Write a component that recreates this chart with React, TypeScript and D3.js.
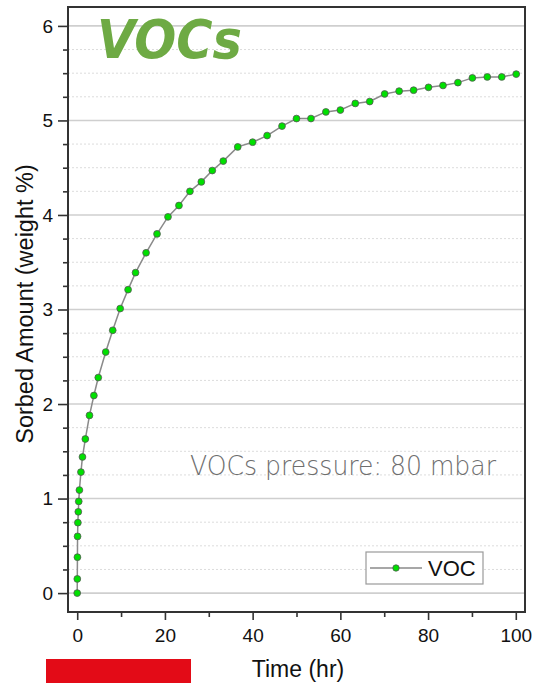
import React, { useEffect, useRef } from "react";
import * as d3 from "d3";

// time (hr) and sorbed amount (weight %)
const timeHr = [
  0, 0.02, 0.05, 0.08, 0.15, 0.25, 0.35, 0.5, 0.85, 1.2, 1.85, 2.8, 3.8, 4.8,
  6.5, 8.1, 9.8, 11.6, 13.3, 15.7, 18.2, 20.7, 23.2, 25.7, 28.3, 30.8, 33.3,
  36.6, 40.0, 43.3, 46.7, 50.0, 53.3, 56.7, 60.0, 63.4, 66.7, 70.1, 73.4, 76.7,
  80.1, 83.4, 86.8, 90.1, 93.5, 96.8, 100.1,
];
const sorbed = [
  0, 0.15, 0.38, 0.6, 0.745, 0.86, 0.97, 1.09, 1.28, 1.44, 1.63, 1.88, 2.09,
  2.28, 2.55, 2.78, 3.01, 3.21, 3.39, 3.6, 3.8, 3.98, 4.1, 4.25, 4.35, 4.47,
  4.57, 4.72, 4.77, 4.84, 4.94, 5.02, 5.02, 5.09, 5.11, 5.18, 5.2, 5.28, 5.31,
  5.32, 5.35, 5.37, 5.4, 5.45, 5.46, 5.46, 5.49,
];
const xTicks = [0, 20, 40, 60, 80, 100];
const yTicks = [0, 1, 2, 3, 4, 5, 6];
const seriesName = "VOC";
const title = "VOCs";
const note = "VOCs pressure: 80 mbar";

const W = 533, H = 683;
const left = 68, right = 525, top = 7, bottom = 612;

export default function App() {
  const ref = useRef<SVGSVGElement>(null);

  useEffect(() => {
    const svg = d3.select(ref.current);
    svg.selectAll("*").remove();

    const x = d3.scaleLinear().domain([-2.1, 102.1]).range([left, right]);
    const y = d3.scaleLinear().domain([-0.2, 6.2]).range([bottom, top]);
    const data = timeHr.map((t, i) => [t, sorbed[i]] as [number, number]);

    // grid
    const minorY = d3.range(0, 6.01, 0.25).filter(v => Math.abs(v - Math.round(v)) > 0.01);
    svg.append("g").selectAll("line").data(minorY).join("line")
      .attr("x1", left).attr("x2", right)
      .attr("y1", d => y(d)).attr("y2", d => y(d))
      .attr("stroke", "#dcdcdc").attr("stroke-width", 1).attr("stroke-dasharray", "2,2");
    svg.append("g").selectAll("line").data(yTicks).join("line")
      .attr("x1", left).attr("x2", right)
      .attr("y1", d => y(d)).attr("y2", d => y(d))
      .attr("stroke", "#cfcfcf").attr("stroke-width", 1.6);

    // axes
    const font = "Arial, 'Liberation Sans', sans-serif";
    const ya = svg.append("g").attr("transform", `translate(${left},0)`)
      .call(d3.axisLeft(y).tickValues(yTicks).tickSize(10).tickPadding(5).tickFormat(d3.format("d")));
    svg.append("g").attr("transform", `translate(${left},0)`)
      .call(d3.axisLeft(y).tickValues(minorY).tickSize(5).tickFormat(() => ""))
      .call(g => g.select(".domain").remove());
    const xa = svg.append("g").attr("transform", `translate(0,${bottom})`)
      .call(d3.axisBottom(x).tickValues(xTicks).tickSize(8).tickPadding(9).tickFormat(d3.format("d")));
    svg.append("g").attr("transform", `translate(0,${bottom})`)
      .call(d3.axisBottom(x).tickValues([10, 30, 50, 70, 90]).tickSize(5).tickFormat(() => ""))
      .call(g => g.select(".domain").remove());
    svg.selectAll(".tick line").attr("stroke", "#333").attr("stroke-width", 1.6);
    [ya, xa].forEach(a => {
      a.select(".domain").remove();
      a.selectAll("text").attr("font-family", font).attr("font-size", 19).attr("fill", "#111");
    });

    svg.append("rect").attr("x", left).attr("y", top)
      .attr("width", right - left).attr("height", bottom - top)
      .attr("fill", "none").attr("stroke", "#333").attr("stroke-width", 2);

    // line + markers
    svg.append("path").datum(data)
      .attr("d", d3.line().x(d => x(d[0])).y(d => y(d[1])))
      .attr("fill", "none").attr("stroke", "#8a8a8a").attr("stroke-width", 1.5);
    svg.append("g").selectAll("circle").data(data).join("circle")
      .attr("cx", d => x(d[0])).attr("cy", d => y(d[1])).attr("r", 3.4)
      .attr("fill", "#00e000").attr("stroke", "#555").attr("stroke-width", 0.8);

    // labels
    svg.append("text").attr("x", 298).attr("y", 677).attr("text-anchor", "middle")
      .attr("font-family", font).attr("font-size", 23).attr("fill", "#111").text("Time (hr)");
    svg.append("text").attr("transform", "translate(33,304) rotate(-90)").attr("text-anchor", "middle")
      .attr("font-family", font).attr("font-size", 23.5).attr("fill", "#111").text("Sorbed Amount (weight %)");

    svg.append("text").attr("x", 97).attr("y", 58)
      .attr("font-family", "'DejaVu Sans', sans-serif").attr("font-weight", "bold").attr("font-style", "italic")
      .attr("font-size", 54).attr("fill", "#6eaa44")
      .attr("textLength", 145).attr("lengthAdjust", "spacingAndGlyphs").text(title);

    svg.append("text").attr("x", 190).attr("y", 475)
      .attr("font-family", "'DejaVu Sans', sans-serif").attr("font-weight", 300)
      .attr("font-size", 26).attr("fill", "#6e6e6e")
      .attr("textLength", 306).attr("lengthAdjust", "spacingAndGlyphs").text(note);

    // legend
    const lg = svg.append("g").attr("transform", "translate(366,552)");
    lg.append("rect").attr("width", 117).attr("height", 32)
      .attr("fill", "#fff").attr("stroke", "#9a9a9a").attr("stroke-width", 1.2);
    lg.append("line").attr("x1", 4).attr("x2", 56).attr("y1", 16).attr("y2", 16)
      .attr("stroke", "#8a8a8a").attr("stroke-width", 1.5);
    lg.append("circle").attr("cx", 30).attr("cy", 16).attr("r", 3.2)
      .attr("fill", "#00e000").attr("stroke", "#555").attr("stroke-width", 0.8);
    lg.append("text").attr("x", 62).attr("y", 24).attr("font-family", font)
      .attr("font-size", 22).attr("fill", "#111").text(seriesName);

    // red bar
    svg.append("rect").attr("x", 46).attr("y", 659).attr("width", 145).attr("height", 24).attr("fill", "#e30b17");
  }, []);

  return (
    <svg ref={ref} width={W} height={H}
      style={{ position: "absolute", left: 0, top: 0, background: "#fff" }} />
  );
}
